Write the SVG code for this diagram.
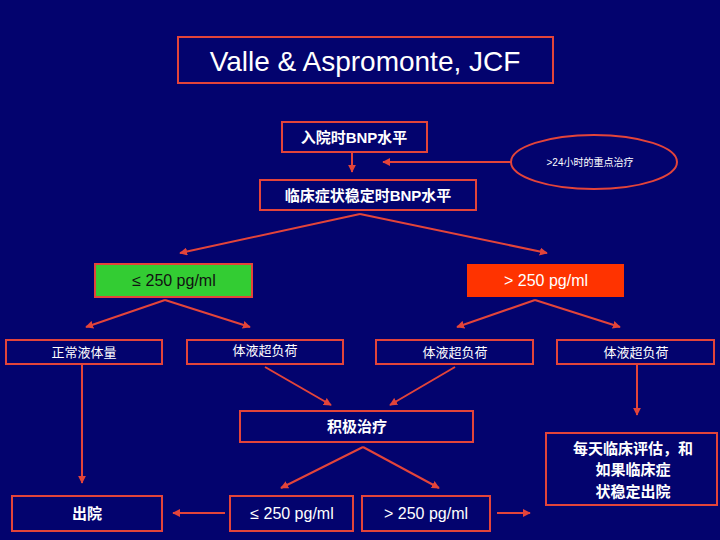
<svg xmlns="http://www.w3.org/2000/svg" width="720" height="540" viewBox="0 0 720 540">
<style>
.b{fill:none;stroke:#e3443a;stroke-width:2}
.t{font-family:"Liberation Sans","Noto Sans CJK SC",sans-serif;fill:#fff;text-anchor:middle}
.c line{stroke:#e3443a;stroke-width:2;marker-end:url(#a)}
</style>
<defs><marker id="a" viewBox="0 0 10 10" refX="9" refY="5" markerWidth="4" markerHeight="4" orient="auto"><path d="M0,0L10,5L0,10z" fill="#e3443a"/></marker></defs>
<rect width="720" height="540" fill="#03036e"/>
<g id="title"><rect x="178" y="37" width="375" height="46" class="b"/><text x="365" y="71" class="t" font-size="28">Valle &amp; Aspromonte, JCF</text></g>
<g id="n1"><rect x="282" y="122" width="145" height="30" class="b"/><text x="354" y="143" class="t" font-size="15" font-weight="bold">入院时BNP水平</text></g>
<g id="n2"><ellipse cx="594" cy="162" rx="83" ry="27" class="b"/><text x="590" y="166" class="t" font-size="10">&gt;24小时的重点治疗</text></g>
<g id="n3"><rect x="260" y="180" width="216" height="30" class="b"/><text x="368" y="201" class="t" font-size="15" font-weight="bold">临床症状稳定时BNP水平</text></g>
<g id="n4"><rect x="95" y="264" width="157" height="33" fill="#33cc33" stroke="#e3443a" stroke-width="2"/><text x="174" y="286" class="t" font-size="16" fill="#000" style="fill:#111">≤ 250 pg/ml</text></g>
<g id="n5"><rect x="467" y="264" width="157" height="33" fill="#ff3300"/><text x="546" y="286" class="t" font-size="16">&gt; 250 pg/ml</text></g>
<g id="n6"><rect x="6" y="340" width="156" height="24" class="b"/><text x="84" y="357" class="t" font-size="13">正常液体量</text></g>
<g id="n7"><rect x="187" y="340" width="156" height="24" class="b"/><text x="265" y="355" class="t" font-size="13">体液超负荷</text></g>
<g id="n8"><rect x="376" y="340" width="157" height="24" class="b"/><text x="455" y="357" class="t" font-size="13">体液超负荷</text></g>
<g id="n9"><rect x="557" y="340" width="157" height="24" class="b"/><text x="636" y="357" class="t" font-size="13">体液超负荷</text></g>
<g id="n10"><rect x="240" y="411" width="233" height="31" class="b"/><text x="357" y="432" class="t" font-size="15" font-weight="bold">积极治疗</text></g>
<g id="n11"><rect x="546" y="433" width="171" height="72" class="b"/><text class="t" font-size="15" font-weight="bold"><tspan x="633" y="454">每天临床评估，和</tspan><tspan x="633" y="475">如果临床症</tspan><tspan x="633" y="497">状稳定出院</tspan></text></g>
<g id="n12"><rect x="12" y="496" width="150" height="35" class="b"/><text x="87" y="519" class="t" font-size="15" font-weight="bold">出院</text></g>
<g id="n13"><rect x="230" y="496" width="123" height="35" class="b"/><text x="292" y="519" class="t" font-size="16">≤ 250 pg/ml</text></g>
<g id="n14"><rect x="362" y="496" width="128" height="35" class="b"/><text x="426" y="519" class="t" font-size="16">&gt; 250 pg/ml</text></g>
<g class="c" id="connectors">
<line x1="352" y1="153" x2="352" y2="172"/>
<line x1="511" y1="162" x2="383" y2="162"/>
<line x1="360" y1="214" x2="180" y2="253"/>
<line x1="360" y1="214" x2="547" y2="253"/>
<line x1="165" y1="300" x2="86" y2="327"/>
<line x1="165" y1="300" x2="250" y2="327"/>
<line x1="535" y1="300" x2="457" y2="327"/>
<line x1="535" y1="300" x2="620" y2="327"/>
<line x1="82" y1="365" x2="82" y2="483"/>
<line x1="637" y1="365" x2="637" y2="415"/>
<line x1="265" y1="367" x2="331" y2="405"/>
<line x1="455" y1="367" x2="390" y2="405"/>
<line x1="363" y1="447" x2="281" y2="488"/>
<line x1="363" y1="447" x2="439" y2="488"/>
<line x1="225" y1="513" x2="173" y2="513"/>
<line x1="497" y1="513" x2="530" y2="513"/>
</g>
</svg>
